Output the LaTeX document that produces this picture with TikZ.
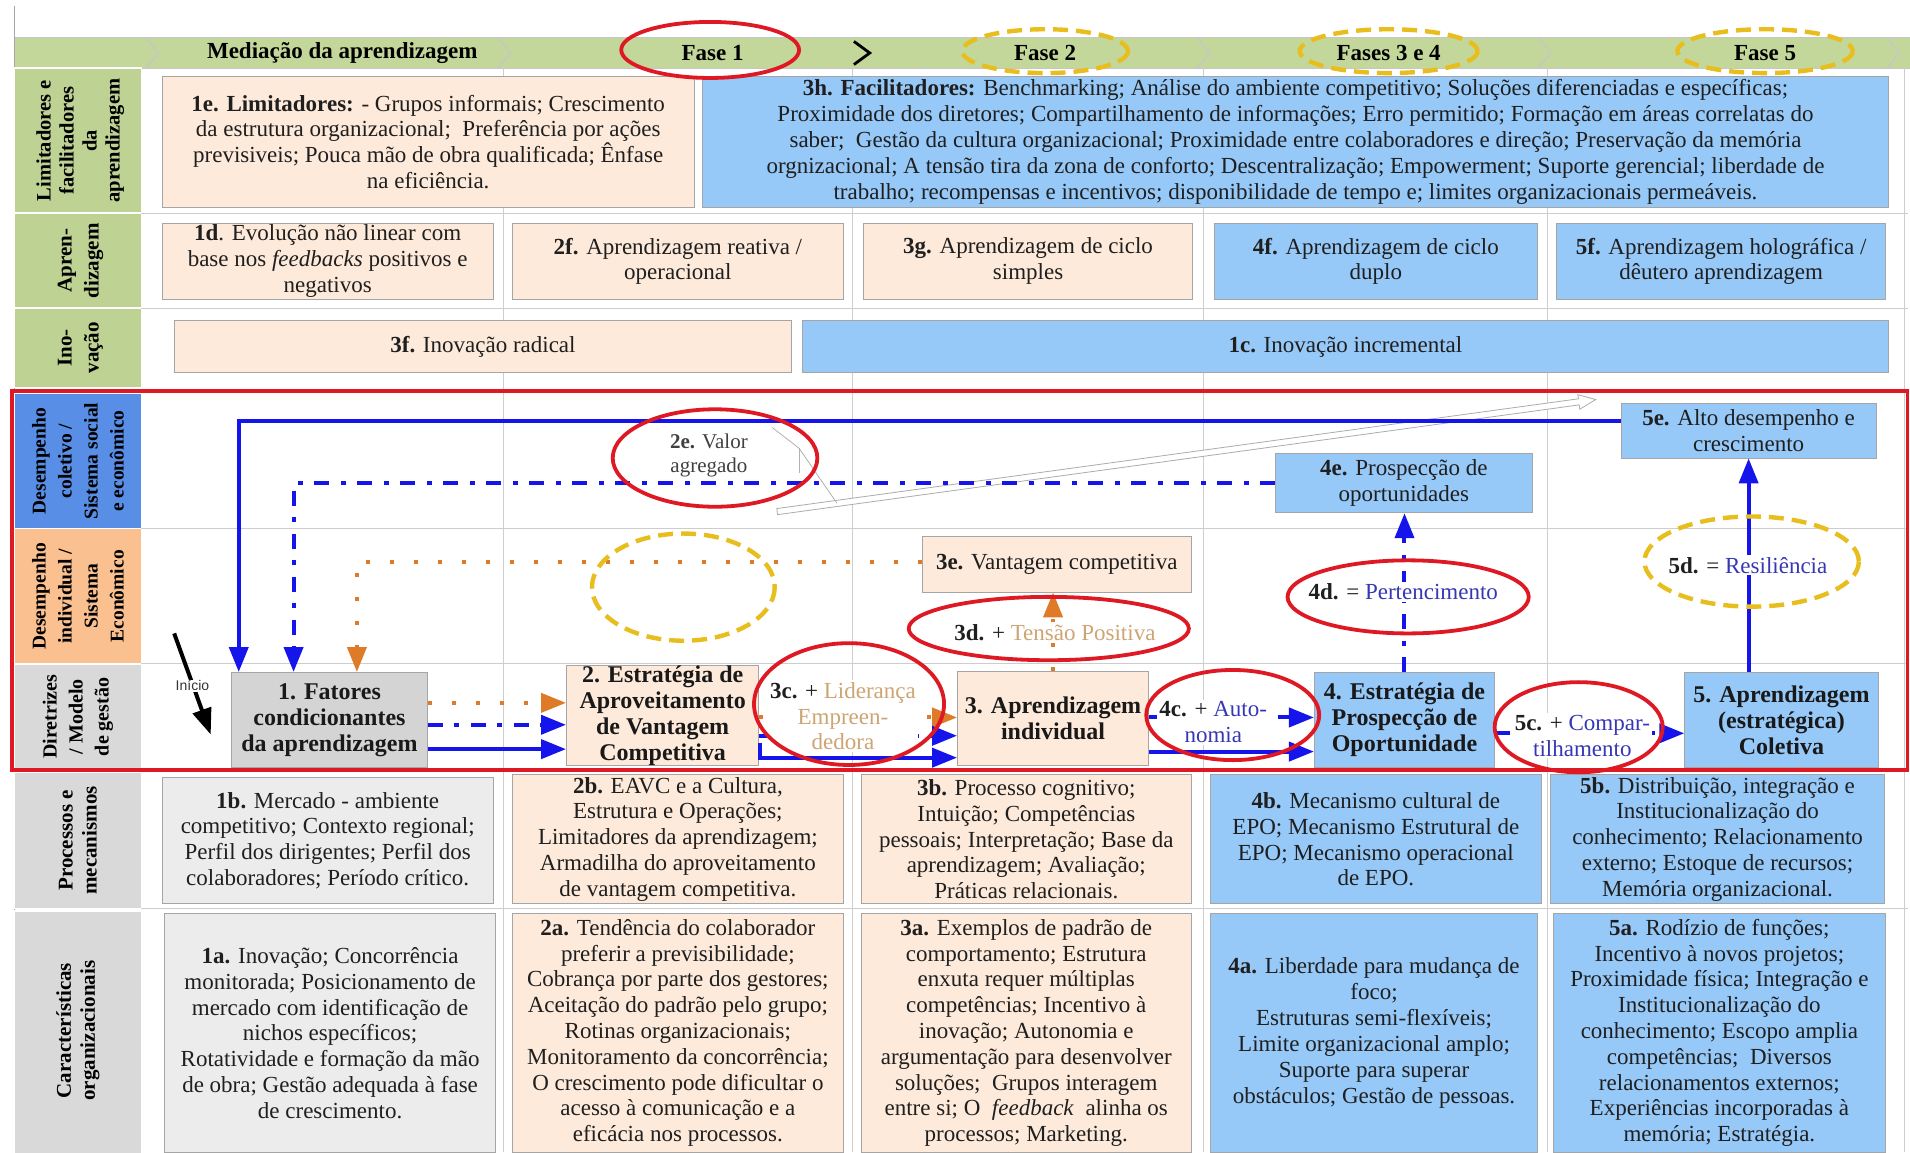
\documentclass[tikz,border=0pt]{standalone}
\usepackage{fontspec}
\setmainfont{Liberation Serif}
\newfontfamily\inifont{Liberation Sans}
\usetikzlibrary{arrows.meta,calc}
\definecolor{hdrgreen}{RGB}{196,215,155}
\definecolor{lblgreen}{RGB}{190,210,148}
\definecolor{lblblue}{RGB}{88,142,230}
\definecolor{lblorange}{RGB}{250,192,144}
\definecolor{lblgray}{RGB}{217,217,217}
\definecolor{peach}{RGB}{253,234,218}
\definecolor{skyb}{RGB}{150,200,248}
\definecolor{lgray}{RGB}{236,236,236}
\definecolor{mgray}{RGB}{212,212,212}
\definecolor{arrblue}{RGB}{20,20,235}
\definecolor{arrorange}{RGB}{222,122,40}
\definecolor{ellred}{RGB}{222,25,35}
\definecolor{ellyellow}{RGB}{232,190,30}
\definecolor{tantext}{RGB}{205,165,115}
\definecolor{bluetext}{RGB}{55,55,180}
\definecolor{gridgray}{RGB}{205,205,205}
\definecolor{boxborder}{RGB}{165,165,165}
\begin{document}
\begin{tikzpicture}[x=1.2181pt,y=-1.2181pt,
  txt/.style={font=\fontsize{23}{25.8}\selectfont, align=center, inner sep=0pt, text=black!88},
  cell/.style={txt, draw=boxborder, line width=0.8pt},
  pbox/.style={cell, fill=peach},
  bbox/.style={cell, fill=skyb},
  gbox/.style={cell, fill=lgray},
  sz/.style 2 args={minimum width=#1*1.2181pt, minimum height=#2*1.2181pt},
  stage/.style={font=\fontsize{24}{26}\bfseries\selectfont, align=center, inner sep=0pt, draw=boxborder, line width=0.8pt, text=black!90},
  rowlbl/.style={font=\fontsize{21}{24}\bfseries\selectfont, align=center, rotate=90, inner sep=0pt},
  hdr/.style={font=\fontsize{23}{26}\bfseries\selectfont, inner sep=0pt},
  tag/.style={txt, fill=white, inner sep=2pt},
  tip/.style={-{Triangle[length=25pt,width=19pt]}},
  bsolid/.style={draw=arrblue, line width=4pt, tip},
  bdash/.style={draw=arrblue, line width=4pt, dash pattern=on 15pt off 11pt on 5pt off 12pt, tip},
  odot/.style={draw=arrorange, line width=4pt, dash pattern=on 4pt off 20pt, tip},
  redell/.style={draw=ellred, line width=3.8pt},
  yelell/.style={draw=ellyellow, line width=4.4pt, dash pattern=on 15pt off 8pt}
]
\useasboundingbox (0,0) rectangle (1568,946);
\fill[white] (0,0) rectangle (1568,946);

% ---------- header band ----------
\fill[hdrgreen] (12,31) rectangle (1568,56);
\draw[gray!45, line width=0.6pt] (12,31) -- (1568,31) (12,56) -- (1568,56);
\foreach \c in {130,419,993,1273,1559}
  \draw[white!55!gray, line width=1.2pt] (\c-10,31) -- (\c,43.5) -- (\c-10,56);
\draw[black, line width=2.8pt] (701,34) -- (714,43.5) -- (701,53);
\node[hdr] (h0) at (281,43.5) {Mediação da aprendizagem};
\node[hdr] (h1) at (585,43.5) {Fase 1};
\node[hdr] (h2) at (858,43.5) {Fase 2};
\node[hdr] (h3) at (1140,43.5) {Fases 3 e 4};
\node[hdr] (h4) at (1449,43.5) {Fase 5};
\draw[gray!70, line width=0.8pt] (12,5) -- (12,946);

% ---------- row label column ----------
\begin{scope}[draw=white, line width=1.5pt]
\filldraw[fill=lblgreen] (12,56) rectangle (116,175);
\filldraw[fill=lblgreen] (12,175) rectangle (116,253);
\filldraw[fill=lblgreen] (12,253) rectangle (116,318);
\filldraw[fill=lblblue] (12,323) rectangle (116,434);
\filldraw[fill=lblorange] (12,434) rectangle (116,545);
\filldraw[fill=lblgray] (12,545) rectangle (116,632);
\filldraw[fill=lblgray] (12,634) rectangle (116,746);
\filldraw[fill=lblgray] (12,748) rectangle (116,950);
\end{scope}
\node[rowlbl, font=\fontsize{20.5}{23}\bfseries\selectfont] (r1) at (66,115.5) {Limitadores e\\facilitadores\\da\\aprendizagem};
\node[rowlbl, font=\fontsize{21}{27}\bfseries\selectfont] (r2) at (66,214) {Apren-\\dizagem};
\node[rowlbl, font=\fontsize{21}{27}\bfseries\selectfont] (r3) at (66,285.5) {Ino-\\vação};
\node[rowlbl, font=\fontsize{19.5}{26}\bfseries\selectfont] (r4) at (64,378.5) {Desempenho\\coletivo /\\Sistema social\\e econômico};
\node[rowlbl, font=\fontsize{19.5}{26}\bfseries\selectfont] (r5) at (64,489.5) {Desempenho\\individual /\\Sistema\\Econômico};
\node[rowlbl, font=\fontsize{20}{26}\bfseries\selectfont] (r6) at (64,588.5) {Diretrizes\\/ Modelo\\de gestão};
\node[rowlbl] (r7) at (64,690) {Processos e\\mecanismos};
\node[rowlbl] (r8) at (64,846) {Características\\organizacionais};

% ---------- grid ----------
\draw[gridgray, line width=0.8pt]
  (116,175) -- (1566,175) (116,253) -- (1566,253) (116,434) -- (1566,434)
  (116,545) -- (1566,545) (116,746) -- (1566,746)
  (413,56) -- (413,946) (700,56) -- (700,946) (988,56) -- (988,946)
  (1270,56) -- (1270,946) (1563,56) -- (1563,946);

% ---------- row 1 ----------
\node[pbox, sz={437}{107}] (n1e) at (351.5,116.5) {\textbf{1e. Limitadores:} - Grupos informais; Crescimento\\da estrutura organizacional;\ \ Preferência por ações\\previsiveis; Pouca mão de obra qualificada; Ênfase\\na eficiência.};
\node[bbox, sz={973}{107}] (n3h) at (1063.5,116.5) {\textbf{3h. Facilitadores:} Benchmarking; Análise do ambiente competitivo; Soluções diferenciadas e específicas;\\Proximidade dos diretores; Compartilhamento de informações; Erro permitido; Formação em áreas correlatas do\\saber;\ \ Gestão da cultura organizacional; Proximidade entre colaboradores e direção; Preservação da memória\\orgnizacional; A tensão tira da zona de conforto; Descentralização; Empowerment; Suporte gerencial; liberdade de\\trabalho; recompensas e incentivos; disponibilidade de tempo e; limites organizacionais permeáveis.};

% ---------- row 2 ----------
\node[pbox, sz={272}{63}] (n1d) at (269,214.5) {\textbf{1d}. Evolução não linear com\\base nos \textit{feedbacks} positivos e\\negativos};
\node[pbox, sz={271}{63}] (n2f) at (556.5,214.5) {\textbf{2f.} Aprendizagem reativa /\\operacional};
\node[pbox, sz={270}{63}] (n3g) at (844,214.5) {\textbf{3g.} Aprendizagem de ciclo\\simples};
\node[bbox, sz={265}{63}] (n4f) at (1129.5,214.5) {\textbf{4f.} Aprendizagem de ciclo\\duplo};
\node[bbox, sz={270}{63}] (n5f) at (1413,214.5) {\textbf{5f.} Aprendizagem holográfica /\\dêutero aprendizagem};

% ---------- row 3 ----------
\node[pbox, sz={507}{43}] (n3f) at (396.5,284.5) {\textbf{3f.} Inovação radical};
\node[bbox, sz={891}{43}] (n1c) at (1104.5,284.5) {\textbf{1c.} Inovação incremental};

% ---------- rows 4-6 nodes ----------
\node[bbox, sz={209}{45}] (n5e) at (1435.5,353.5) {\textbf{5e.} Alto desempenho e\\crescimento};
\node[bbox, sz={211}{49}] (n4e) at (1152.5,396.5) {\textbf{4e.} Prospecção de\\oportunidades};
\node[pbox, sz={221}{46}] (n3e) at (867.5,463) {\textbf{3e.} Vantagem competitiva};
\node[stage, fill=mgray, sz={161}{78}] (b1) at (270.5,591) {1. Fatores\\condicionantes\\da aprendizagem};
\node[stage, fill=peach, sz={158}{79}] (b2) at (544,587.5) {2. Estratégia de\\Aproveitamento\\de Vantagem\\Competitiva};
\node[stage, fill=peach, sz={157}{77}] (b3) at (864.5,589.5) {3. Aprendizagem\\individual};
\node[stage, fill=skyb, sz={148}{78}] (b4) at (1153,591) {4. Estratégia de\\Prospecção de\\Oportunidade};
\node[stage, fill=skyb, sz={159}{78}] (b5) at (1462.5,591) {5. Aprendizagem\\(estratégica)\\Coletiva};

% ---------- rows 7-8 ----------
\node[gbox, sz={272}{103}] (n1b) at (269,690) {\textbf{1b.} Mercado - ambiente\\competitivo; Contexto regional;\\Perfil dos dirigentes; Perfil dos\\colaboradores; Período crítico.};
\node[pbox, sz={271}{106}] (n2b) at (556.5,689) {\textbf{2b.} EAVC e a Cultura,\\Estrutura e Operações;\\Limitadores da aprendizagem;\\Armadilha do aproveitamento\\de vantagem competitiva.};
\node[pbox, sz={271}{106}] (n3b) at (842.5,689) {\textbf{3b.} Processo cognitivo;\\Intuição; Competências\\pessoais; Interpretação; Base da\\aprendizagem; Avaliação;\\Práticas relacionais.};
\node[bbox, sz={271}{106}] (n4b) at (1129.5,689) {\textbf{4b.} Mecanismo cultural de\\EPO; Mecanismo Estrutural de\\EPO; Mecanismo operacional\\de EPO.};
\node[bbox, sz={274}{106}] (n5b) at (1410,689) {\textbf{5b.} Distribuição, integração e\\Institucionalização do\\conhecimento; Relacionamento\\externo; Estoque de recursos;\\Memória organizacional.};

\node[gbox, sz={272}{196}] (n1a) at (271,848) {\textbf{1a.} Inovação; Concorrência\\monitorada; Posicionamento de\\mercado com identificação de\\nichos específicos;\\Rotatividade e formação da mão\\de obra; Gestão adequada à fase\\de crescimento.};
\node[pbox, sz={271}{196}] (n2a) at (556.5,848) {\textbf{2a.} Tendência do colaborador\\preferir a previsibilidade;\\Cobrança por parte dos gestores;\\Aceitação do padrão pelo grupo;\\Rotinas organizacionais;\\Monitoramento da concorrência;\\O crescimento pode dificultar o\\acesso à comunicação e a\\eficácia nos processos.};
\node[pbox, sz={271}{196}] (n3a) at (842.5,848) {\textbf{3a.} Exemplos de padrão de\\comportamento; Estrutura\\enxuta requer múltiplas\\competências; Incentivo à\\inovação; Autonomia e\\argumentação para desenvolver\\soluções;\ \ Grupos interagem\\entre si; O\ \ \textit{feedback}\ \ alinha os\\processos; Marketing.};
\node[bbox, sz={268}{196}] (n4a) at (1128,848) {\textbf{4a.} Liberdade para mudança de\\foco;\\Estruturas semi-flexíveis;\\Limite organizacional amplo;\\Suporte para superar\\obstáculos; Gestão de pessoas.};
\node[bbox, sz={273}{196}] (n5a) at (1411.5,848) {\textbf{5a.} Rodízio de funções;\\Incentivo à novos projetos;\\Proximidade física; Integração e\\Institucionalização do\\conhecimento; Escopo amplia\\competências;\ \ Diversos\\relacionamentos externos;\\Experiências incorporadas à\\memória; Estratégia.};

% ---------- hollow grey arrow and callout ----------
\filldraw[fill=white, draw=gray!65, line width=0.8pt]
  (637.7,417.5) -- (1295.8,327.4) -- (1295.3,324.0) -- (1310,328) -- (1296.9,335.9) -- (1296.4,332.4) -- (638.3,422.5) -- cycle;
\coordinate (c2e) at (634,351);
\coordinate (c2k) at (656,368);
\coordinate (ha) at (687,413);
\draw[gray!60, line width=0.8pt] (c2e) -- (c2k) -- (ha);
\draw[gray!60, line width=0.8pt] (c2k) -- ++(0,20);

% ---------- connectors ----------
\coordinate (cS) at (196,346);
\coordinate (cD) at (241,397);
\coordinate (cO) at (293,461);
\draw[bsolid] (n5e.west |- cS) -| (b1.north -| cS);
\draw[bdash] (n4e.west) -| (b1.north -| cD);
\draw[odot] (n3e.west |- cO) -| (b1.north -| cO);

\draw[odot] (b1.east |- 0,577) -- (b2.west |- 0,577);
\draw[bdash] (b1.east |- 0,595) -- (b2.west |- 0,595);
\draw[bsolid] (b1.east |- 0,615) -- (b2.west |- 0,615);

\draw[odot] (b2.east |- 0,589) -- (b3.west |- 0,589);
\draw[bdash] (b2.east |- 0,604) -- (b3.west |- 0,604);
\draw[bsolid] ([xshift=1pt]b2.east |- 0,610) |- (b3.west |- 0,622);

\draw[bdash] (b3.east |- 0,589) -- (b4.west |- 0,589);
\draw[bsolid] (b3.east |- 0,617) -- (b4.west |- 0,617);
\draw[bdash] (b4.east |- 0,602) -- (b5.west |- 0,602);

\draw[bdash] (b4.north) -- (n4e.south -| b4.north);
\draw[bsolid] (b5.north -| n5e.south) -- (n5e.south);
\draw[odot] (b3.north) -- (n3e.south -| b3.north);

% start arrow
\coordinate (inistart) at (143,520);
\coordinate (iniend) at (173,603);
\draw[black, line width=4pt, -{Triangle[length=26pt,width=19pt]}] (inistart) -- (iniend);
\node[fill=white, inner sep=1pt, text=black!80, font=\inifont\fontsize{14}{16}\selectfont] (ini) at (158,563) {Início};

% ---------- tags ----------
\node[txt, font=\fontsize{21}{24}\selectfont, text=black!75] (l2e) at (582,374) {\textbf{2e.} Valor\\agregado};
\node[tag] (l3c) at (692,588) {\textbf{3c.} + \textcolor{tantext}{Liderança}\\\textcolor{tantext}{Empreen-}\\\textcolor{tantext}{dedora}};
\node[tag] (l3d) at (866,519) {\textbf{3d.} + \textcolor{tantext}{Tensão Positiva}};
\node[tag] (l4c) at (996,593) {\textbf{4c.} + \textcolor{bluetext}{Auto-}\\\textcolor{bluetext}{nomia}};
\node[tag] (l4d) at (1152,486) {\textbf{4d.} = \textcolor{bluetext}{Pertencimento}};
\node[tag] (l5c) at (1299,604) {\textbf{5c.} + \textcolor{bluetext}{Compar-}\\\textcolor{bluetext}{tilhamento}};
\node[tag] (l5d) at (1435,464) {\textbf{5d.} = \textcolor{bluetext}{Resiliência}};

% ---------- highlight ellipses ----------
\draw[redell] (583,41) ellipse [x radius=73, y radius=23];
\draw[yelell] (858,42) ellipse [x radius=68, y radius=18];
\draw[yelell] (1140,42) ellipse [x radius=73, y radius=18];
\draw[yelell] (1449,42) ellipse [x radius=72, y radius=18];
\draw[redell] (587,376) ellipse [x radius=84, y radius=40];
\draw[redell] (697,578) ellipse [x radius=78, y radius=50];
\draw[redell] (861,516) ellipse [x radius=115, y radius=26];
\draw[redell] (1012,587) ellipse [x radius=71, y radius=37];
\draw[redell] (1156,490) ellipse [x radius=99, y radius=30];
\draw[redell] (1296,597) ellipse [x radius=69, y radius=37];
\draw[yelell] (1438,461) ellipse [x radius=88, y radius=37];
\draw[yelell] (561,482) ellipse [x radius=75, y radius=44];

% ---------- red frame ----------
\draw[ellred, line width=3.6pt] (10,321) rectangle (1566,632);
\end{tikzpicture}
\end{document}
